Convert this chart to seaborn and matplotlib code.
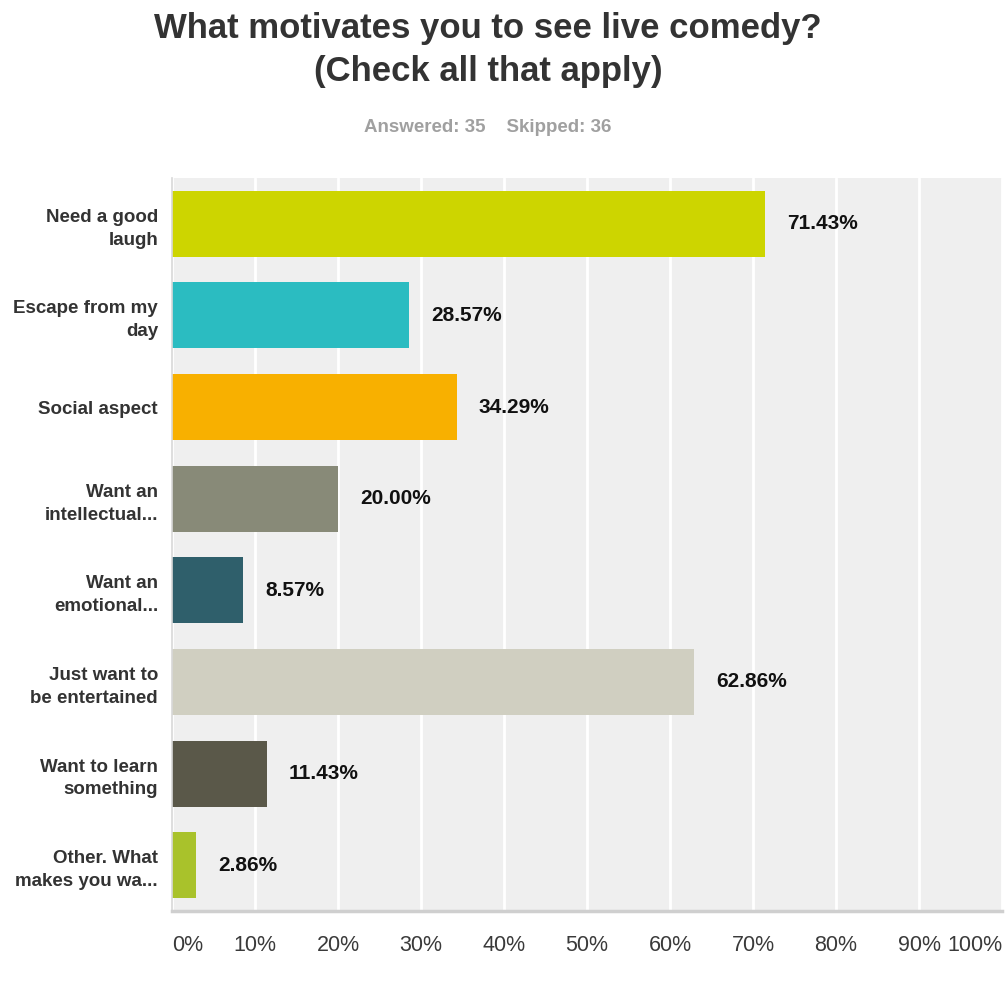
import matplotlib
matplotlib.use("Agg")
import matplotlib.pyplot as plt
import seaborn as sns
import pandas as pd

# Survey responses: share of respondents choosing each motivation (%)
categories = [
    "Need a good\nlaugh",
    "Escape from my\nday",
    "Social aspect",
    "Want an\nintellectual...",
    "Want an\nemotional...",
    "Just want to\nbe entertained",
    "Want to learn\nsomething",
    "Other. What\nmakes you wa...",
]
percentages = [71.43, 28.57, 34.29, 20.00, 8.57, 62.86, 11.43, 2.86]
bar_colors = ["#CDD500", "#2BBCC1", "#F8B000", "#888A78", "#2F5F6B",
              "#D0CFC1", "#5A5849", "#A9C22B"]
tick_values = list(range(0, 101, 10))
tick_labels = [f"{v}%" for v in tick_values]

title = "What motivates you to see live comedy?\n(Check all that apply)"
subtitle = "Answered: 35    Skipped: 36"

df = pd.DataFrame({"category": categories, "percent": percentages})

sns.set_theme(style="white")
plt.rcParams["font.family"] = ["Liberation Sans", "DejaVu Sans"]

W, H = 1005, 986
fig = plt.figure(figsize=(W / 100, H / 100), dpi=100)
ax = fig.add_axes([172 / W, 75 / H, 830 / W, 733 / H])
ax.set_facecolor("#EFEFEF")

sns.barplot(data=df, x="percent", y="category", hue="category",
            palette=bar_colors, orient="h", width=0.72, legend=False,
            saturation=1, linewidth=0, edgecolor="none", ax=ax)

ax.set_xlim(0, 100)
ax.set_ylim(len(categories) - 0.5, -0.5)
ax.set_xticks(tick_values)
ax.set_xticklabels(tick_labels)
ax.set_xlabel("")
ax.set_ylabel("")

# vertical white grid lines behind the bars
ax.set_axisbelow(True)
ax.xaxis.grid(True, color="white", linewidth=2)
ax.yaxis.grid(False)

for side in ("top", "right"):
    ax.spines[side].set_visible(False)
ax.spines["bottom"].set_color("#CFCFCF")
ax.spines["bottom"].set_linewidth(2.5)
ax.spines["left"].set_color("#D8D8D8")
ax.spines["left"].set_linewidth(1.2)

ax.tick_params(axis="both", length=0)
ax.tick_params(axis="x", pad=17)
ax.tick_params(axis="y", pad=10)

for lbl in ax.get_yticklabels():
    lbl.set_fontsize(13.5)
    lbl.set_fontweight("bold")
    lbl.set_color("#333333")
    lbl.set_linespacing(1.45)
    lbl.set_horizontalalignment("right")

xlabels = ax.get_xticklabels()
for i, lbl in enumerate(xlabels):
    lbl.set_fontfamily(["Liberation Sans Narrow", "Liberation Sans", "DejaVu Sans"])
    lbl.set_fontsize(15.5)
    lbl.set_color("#3A3A3A")
xlabels[0].set_horizontalalignment("left")
xlabels[-1].set_horizontalalignment("right")

# value labels next to each bar
for i, v in enumerate(percentages):
    ax.annotate(f"{v:.2f}%", xy=(v, i), xytext=(16, 0),
                textcoords="offset points", ha="left", va="center",
                fontsize=15, fontweight="bold", color="#111111")

fig.text(488 / W, 1 - 50 / H, title, ha="center", va="center",
         fontsize=25, fontweight="bold", color="#333333", linespacing=1.35)
fig.text(488 / W, 1 - 127 / H, subtitle, ha="center", va="center",
         fontsize=13.5, fontweight="bold", color="#A0A0A0")

fig.savefig("out.png", dpi=100)
